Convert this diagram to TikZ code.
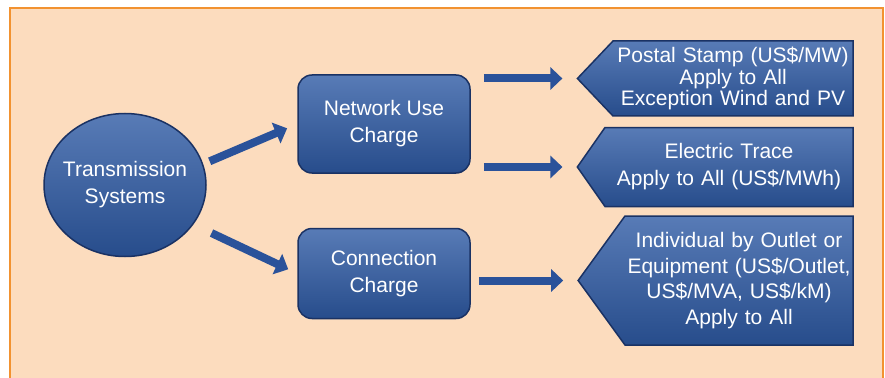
\documentclass[tikz,border=0pt]{standalone}
\usepackage{fontspec}
\setmainfont{Liberation Sans}
\usetikzlibrary{shapes.geometric,shapes.symbols,arrows.meta,positioning}

\definecolor{pagepeach}{RGB}{252,220,190}
\definecolor{frameorange}{RGB}{242,146,48}
\definecolor{boxblue}{RGB}{46,90,164}
\definecolor{boxedge}{RGB}{26,50,100}
\definecolor{arrowblue}{RGB}{42,82,154}

\begin{document}
\begin{tikzpicture}[x=1pt, y=-1pt,
    every node/.style={font=\fontsize{21}{27}\selectfont, text=white, align=center},
    system/.style={ellipse, draw=boxedge, line width=1.5pt, top color=boxblue!80!white, bottom color=boxblue!85!black, minimum width=162pt, minimum height=143pt, inner xsep=-12pt, inner ysep=0pt},
    charge/.style={rectangle, rounded corners=14pt, draw=boxedge, line width=1.5pt, top color=boxblue!80!white, bottom color=boxblue!85!black, minimum width=172pt, minimum height=#1},
    tariff/.style={signal, signal to=west, signal from=nowhere, signal pointer angle=#1, draw=boxedge, line width=1.5pt, top color=boxblue!80!white, bottom color=boxblue!85!black, inner xsep=0pt},
    blockarrow/.style={line width=8pt, draw=arrowblue, -{Triangle[width=22pt,length=12pt]}}
]
\useasboundingbox (0,0) rectangle (885,377);

% Background panel
\fill[pagepeach] (9.5,8.5) rectangle (883,380);
\draw[frameorange, line width=2pt] (9.5,380) -- (9.5,8.5) -- (883,8.5) -- (883,380);

% Source
\node[system] (ts) at (125,185) {Transmission\\Systems};

% Charge types
\node[charge=98pt] (nuc) at (384,124) {Network Use\\Charge};
\node[charge=90pt, below=54pt of nuc] (cc) {Connection\\Charge};

% Tariff methods
\node[tariff=93, text width=240pt, minimum height=75pt, font=\fontsize{21}{21.5}\selectfont] (ps) at (733,78.5) {Postal Stamp (US\$/MW)\\Apply to All\\Exception Wind and PV};
\node[tariff=110, text width=248pt, minimum height=79pt, below=10pt of ps, xshift=-4pt] (et) {Electric Trace\\Apply to All (US\$/MWh)};
\node[tariff=108, text width=228pt, minimum height=129pt, font=\fontsize{21}{25.5}\selectfont, below=8pt of et, xshift=10pt] (io) {Individual by Outlet or\\Equipment (US\$/Outlet,\\US\$/MVA, US\$/kM)\\Apply to All};

% Arrows from source
\draw[blockarrow, shorten <=7pt, shorten >=11pt] (ts.15) -- (nuc.west);
\draw[blockarrow, shorten <=20pt, shorten >=10pt] (ts.-30) -- (cc.west);

% Arrows to tariffs
\draw[blockarrow, shorten <=13pt, shorten >=14pt] (nuc.east |- ps.west) -- (ps.west);
\draw[blockarrow, shorten <=13pt, shorten >=14pt] (nuc.east |- et.west) -- (et.west);
\draw[blockarrow, shorten <=8pt, shorten >=14pt] (cc.east |- io.west) -- (io.west);

\end{tikzpicture}
\end{document}
